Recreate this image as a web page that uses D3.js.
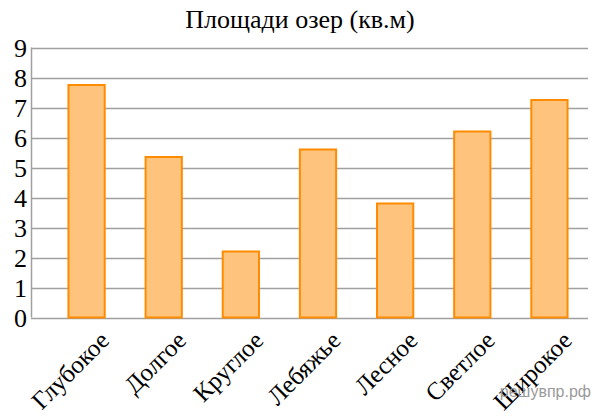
<!DOCTYPE html>
<html><head><meta charset="utf-8">
<script src="https://cdn.jsdelivr.net/npm/d3@7"></script>
<style>body{margin:0;background:#fff}svg{display:block}</style>
</head><body>
<svg id="c" width="598" height="416"></svg>
<script>
const categories = ["Глубокое","Долгое","Круглое","Лебяжье","Лесное","Светлое","Широкое"];
const values = [7.75, 5.35, 2.2, 5.6, 3.8, 6.2, 7.25];
const yTicks = [0,1,2,3,4,5,6,7,8,9];
const title = "Площади озер (кв.м)";
const watermark = "решувпр.рф";

const SERIF = '"Liberation Serif", "Times New Roman", serif';
const SANS = '"Liberation Sans", Arial, sans-serif';
const svg = d3.select("#c");
const plotL = 31, plotR = 588, plotT = 47.5, plotB = 317.5;
const x = d3.scaleBand().domain(categories).range([48, 588]).paddingInner(0.53).paddingOuter(0.265);
const y = d3.scaleLinear().domain([0, 9]).range([plotB, plotT]);

// grid
svg.append("g").selectAll("line").data(yTicks).join("line")
  .attr("x1", plotL).attr("x2", plotR)
  .attr("y1", d => Math.round(y(d)) + 0.5).attr("y2", d => Math.round(y(d)) + 0.5)
  .attr("stroke", "#a0a0a0").attr("stroke-width", 1.5);
// left axis line
svg.append("line").attr("x1", plotL + 0.5).attr("x2", plotL + 0.5)
  .attr("y1", y(9)).attr("y2", y(0)).attr("stroke", "#a0a0a0").attr("stroke-width", 1.5);

// y labels
svg.append("g").selectAll("text").data(yTicks).join("text")
  .attr("x", 27).attr("y", d => y(d) + 9)
  .attr("text-anchor", "end")
  .style("font-family", SERIF).style("font-size", "26px")
  .attr("fill", "#000").text(d => d);

// bars
svg.append("g").selectAll("rect").data(values).join("rect")
  .attr("x", (d, i) => x(categories[i]))
  .attr("width", x.bandwidth())
  .attr("y", d => y(d))
  .attr("height", d => y(0) - y(d))
  .attr("fill", "#fec47e").attr("stroke", "#ff8c00").attr("stroke-width", 2);

// x labels
svg.append("g").selectAll("text").data(categories).join("text")
  .attr("transform", d => `translate(${x(d) + x.bandwidth() / 2 + 24},342) rotate(-45)`)
  .attr("text-anchor", "end")
  .style("font-family", SERIF).style("font-size", "25px")
  .attr("fill", "#000").text(d => d);

// title
svg.append("text").attr("x", 300).attr("y", 28).attr("text-anchor", "middle")
  .style("font-family", SERIF).style("font-size", "26px")
  .attr("fill", "#000").text(title);

// watermark
svg.append("text").attr("x", 591).attr("y", 397).attr("text-anchor", "end")
  .style("font-family", SANS).style("font-size", "16px")
  .attr("fill", "#9a9a9a").text(watermark);
</script>
</body></html>
